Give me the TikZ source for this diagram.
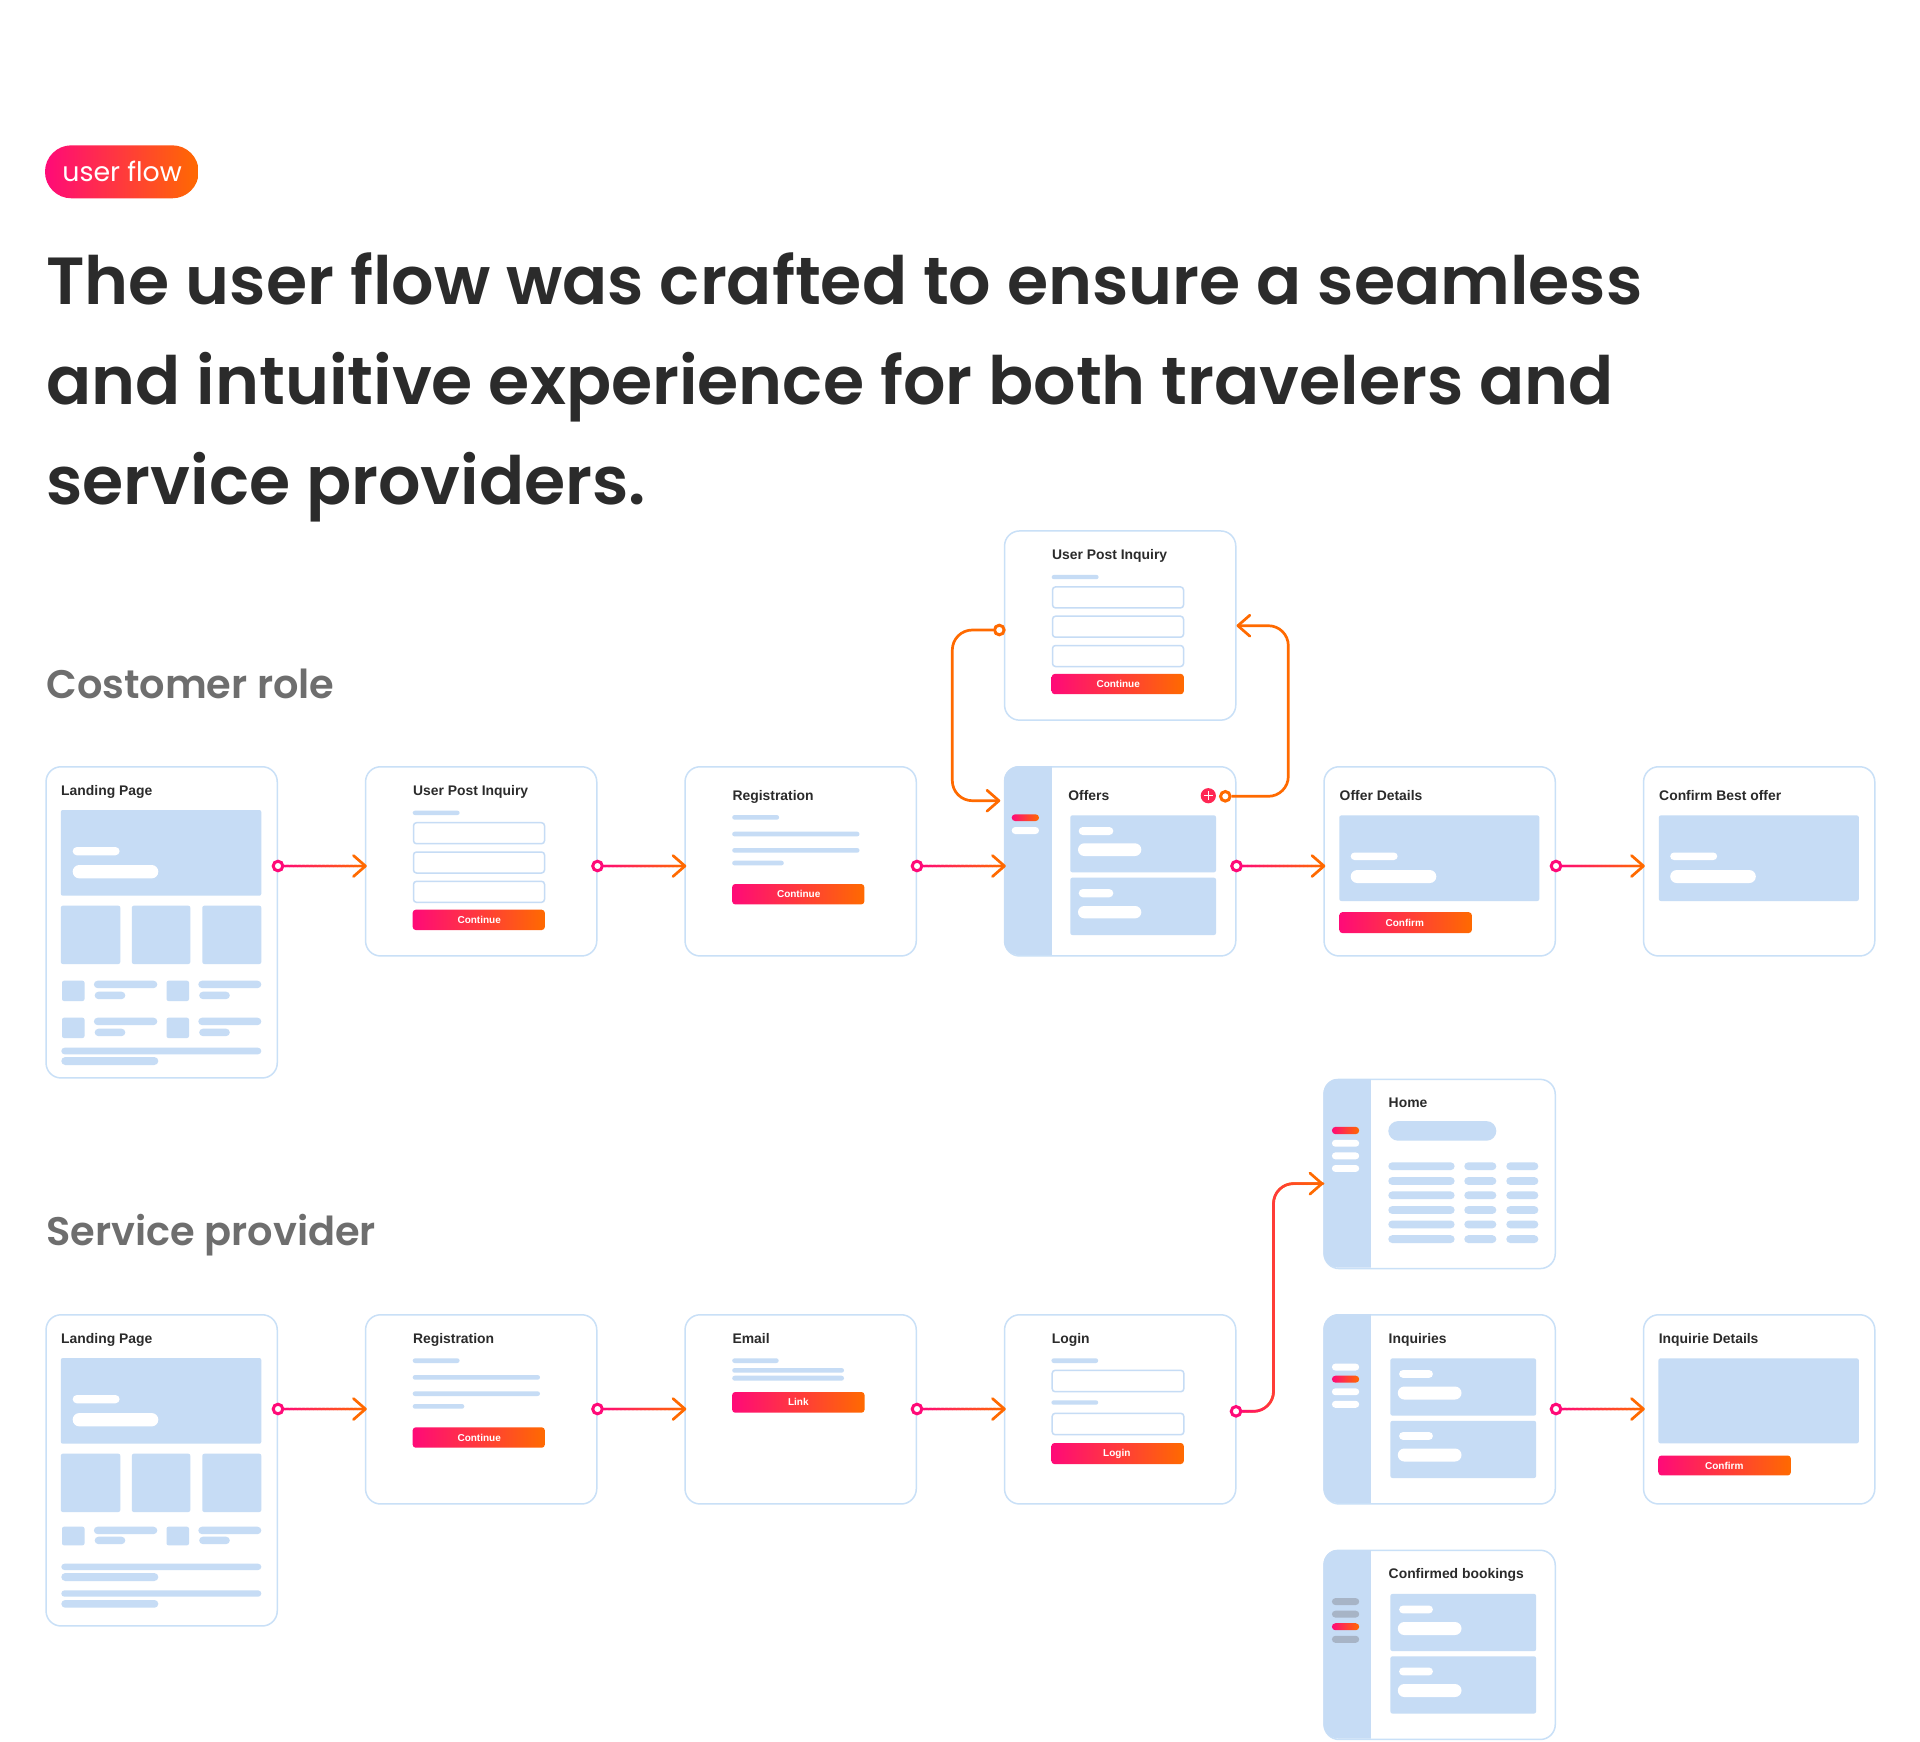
\documentclass[tikz,border=0pt]{standalone}
\usepackage{fontspec}
\usetikzlibrary{arrows.meta,decorations.markings,calc}
\newfontfamily\popsemi{Poppins SemiBold}
\newfontfamily\popmed{Poppins Medium}
\newfontfamily\popreg{Poppins}
\newfontfamily\uifont{Liberation Sans}
\definecolor{gPink}{HTML}{FF0A78}
\definecolor{gOrange}{HTML}{FF6A00}
\definecolor{blockblue}{HTML}{C6DCF5}
\definecolor{borderblue}{HTML}{C9E0F7}
\definecolor{inkdark}{HTML}{2B2B2B}
\definecolor{inkgray}{HTML}{6E6E6E}
\definecolor{navgray}{HTML}{A7B4C6}
\tikzset{
  card/.style={draw=borderblue,line width=0.75pt,fill=white,rectangle,rounded corners=7.5pt,
    minimum width=115.6pt,inner sep=0pt,anchor=north west},
  uititle/.style={inner sep=0pt,anchor=base west,text=inkdark,font=\uifont\bfseries\fontsize{6.95}{9}\selectfont},
  btnlabel/.style={inner sep=0pt,text=white,font=\uifont\bfseries\fontsize{5}{6}\selectfont},
  headline/.style={inner sep=0pt,anchor=base west,text=inkdark,font=\popsemi\fontsize{33.32}{40}\selectfont},
  rolelabel/.style={inner sep=0pt,anchor=base west,text=inkgray,font=\popsemi\fontsize{19.95}{24}\selectfont},
  fieldline/.style={draw=blockblue,line width=0.75pt,fill=white,rounded corners=1.5pt},
  blockfill/.style={fill=blockblue,rounded corners=1pt},
  gradfill/.style={left color=gPink,right color=gOrange},
  ringnode/.style={circle,draw=gPink,fill=white,line width=1.5pt,minimum size=4.8pt,inner sep=0pt},
  ringorange/.style={ringnode,draw=gOrange},
  barbtip/.style={-{Straight Barb[length=6pt,width=10.5pt,round]}},
  flowsolid/.style={draw=gOrange,line width=1.35pt,rounded corners=10pt,barbtip},
  flow/.style={flowsolid,shorten >=-1pt,postaction={decorate,decoration={markings,
    mark=between positions 0 and 1 step 0.4pt with {
      \pgfmathsetmacro\gpct{100*\pgfkeysvalueof{/pgf/decoration/mark info/distance from start}/\pgfdecoratedpathlength}
      \fill[color=gOrange!\gpct!gPink] (0,0) circle (0.7pt);}}}},
  flowmid/.style={flowsolid,postaction={decorate,decoration={markings,
    mark=between positions 0 and 1 step 0.4pt with {
      \pgfmathsetmacro\gq{100*\pgfkeysvalueof{/pgf/decoration/mark info/distance from start}/\pgfdecoratedpathlength}
      \pgfmathsetmacro\gpct{\gq<12?\gq*4.2:(\gq>84?50+(\gq-84)*3.1:50)}
      \fill[color=gOrange!\gpct!gPink] (0,0) circle (0.7pt);}}}},
}
\newcount\txtcnt
\newcommand{\myblk}[4]{\fill[blockfill] (#1,#2) rectangle (#3,#4);}
\newcommand{\mypill}[5]{\pgfmathsetmacro\rr{(#4-#2)/4-0.01}\fill[#5,rounded corners=\rr pt] (#1,#2) rectangle (#3,#4);}
\newcommand{\blp}[4]{\mypill{#1}{#2}{#3}{#4}{blockblue}}
\newcommand{\whp}[4]{\mypill{#1}{#2}{#3}{#4}{white}}
\newcommand{\gpill}[4]{\pgfmathsetmacro\rr{(#4-#2)/4-0.01}\shade[gradfill,rounded corners=\rr pt] (#1,#2) rectangle (#3,#4);}
\newcommand{\field}[4]{\draw[fieldline] (#1,#2) rectangle (#3,#4);}
\newcommand{\uititle}[3]{\global\advance\txtcnt by 1 \node[uititle] (t\the\txtcnt) at (#1,#2) {#3};}
\newcommand{\btn}[6]{\shade[gradfill,rounded corners=1.5pt] (#1,#2) rectangle (#3,#4);
  \global\advance\txtcnt by 1 \node[btnlabel] (t\the\txtcnt) at (#5,{(#2+#4)/2}) {#6};}
\newcommand{\sidebar}{\begin{scope}\clip[rounded corners=7.5pt] (0,0) rectangle (231.2,189);
  \fill[blockblue] (0,0) rectangle (48,189);\end{scope}}
\newcommand{\landinghero}{\myblk{15.5}{44}{216}{129.7}
  \whp{27.4}{81}{74.3}{89.3}\whp{27.4}{99}{113}{112.4}
  \myblk{15.5}{139.7}{75}{198}\myblk{86.5}{139.7}{145}{198}\myblk{157}{139.7}{216}{198}}
\newcommand{\landingrow}[3]{% y square top, bar2 top, square bottom
  \myblk{16.7}{#1}{39.2}{#3}\myblk{121.2}{#1}{143.7}{#3}
  \pgfmathsetmacro\ya{#1+7.4}\pgfmathsetmacro\yb{#2+7.4}
  \blp{48.6}{#1}{112}{\ya}\blp{153}{#1}{216}{\ya}\blp{49.4}{#2}{80}{\yb}\blp{153.9}{#2}{184.5}{\yb}}
\newcommand{\inquiryform}{\uititle{47.9}{29.7}{User Post Inquiry}
  \blp{47.9}{44.7}{94.8}{49}
  \field{48.7}{56.7}{179.7}{77.7}\field{48.7}{86}{179.7}{107}\field{48.7}{115.3}{179.7}{136.3}
  \btn{47.9}{143.7}{180}{164}{114.4}{Continue}}
\newcommand{\bookblocks}{\myblk{67.1}{44.4}{212.8}{101.6}\whp{75.8}{56}{109.6}{63.9}\whp{74.5}{72.5}{138.2}{85.5}
  \myblk{67.1}{106.8}{212.8}{164}\whp{75.8}{118}{109.6}{125.9}\whp{74.5}{134.5}{138.2}{147.5}}
\newcommand{\herobig}{\myblk{16}{49.4}{216}{135}\whp{27.4}{86.5}{74.3}{94}\whp{27.4}{104}{113}{117}}
\begin{document}
\begin{tikzpicture}[x=0.5pt,y=-0.5pt]
\useasboundingbox (0,0) rectangle (1920,1741);
\fill[white] (0,0) rectangle (1920,1741);
% badge
\shade[gradfill,rounded corners=13.2pt] (45,145.3) rectangle (198.7,198.3);
\node[inner sep=0pt,anchor=base west,text=white,font=\popreg\fontsize{13.4}{18}\selectfont] (badge) at (62,181.5) {user flow};
% heading
\node[headline] (h1) at (46,304.3) {The user flow was crafted to ensure a seamless};
\node[headline] (h2) at (46,404.3) {and intuitive experience for both travelers and};
\node[headline] (h3) at (46,504.3) {service providers.};
\node[rolelabel] (role1) at (46,698) {Costomer role};
\node[rolelabel] (role2) at (46,1245) {Service provider};
% ---- row 1 cards
\node[card,minimum height=155.6pt] (c1) at (45.3,766) {};
\node[card,minimum height=94.6pt] (c2) at (364.8,766) {};
\node[card,minimum height=94.6pt] (c3) at (684.3,766) {};
\node[card,minimum height=94.6pt] (c4) at (1003.8,766) {};
\node[card,minimum height=94.6pt] (c5) at (1323.3,766) {};
\node[card,minimum height=94.6pt] (c6) at (1642.8,766) {};
\node[card,minimum height=94.6pt] (ctop) at (1003.8,530.2) {};
% row 2 cards
\node[card,minimum height=155.6pt] (d1) at (45.3,1314) {};
\node[card,minimum height=94.6pt] (d2) at (364.8,1314) {};
\node[card,minimum height=94.6pt] (d3) at (684.3,1314) {};
\node[card,minimum height=94.6pt] (d4) at (1003.8,1314) {};
\node[card,minimum height=94.6pt] (d5) at (1323.3,1314) {};
\node[card,minimum height=94.6pt] (d6) at (1642.8,1314) {};
\node[card,minimum height=94.6pt] (dhome) at (1323.3,1078.6) {};
\node[card,minimum height=94.6pt] (dconf) at (1323.3,1549.5) {};
% ---- contents: landing (customer)
\begin{scope}[shift={(45.3,766)}]
  \uititle{15.5}{29.7}{Landing Page}
  \landinghero
  \landingrow{214.7}{225.7}{235}
  \landingrow{251.7}{262.7}{272}
  \blp{16}{281.7}{216}{288.3}\blp{16}{291}{113}{299}
\end{scope}
\begin{scope}[shift={(364.8,766)}]\inquiryform\end{scope}
\begin{scope}[shift={(1003.8,530.2)}]\inquiryform\end{scope}
% registration (customer)
\begin{scope}[shift={(684.3,766)}]
  \uititle{47.9}{34.4}{Registration}
  \blp{47.9}{49}{94.8}{53.7}\blp{47.9}{65.7}{175.2}{70.4}\blp{47.9}{82}{175.2}{86.7}\blp{47.9}{94.7}{99.5}{99.4}
  \btn{47.9}{118}{180}{138.4}{114.4}{Continue}
\end{scope}
% offers
\begin{scope}[shift={(1003.8,766)}]
  \sidebar
  \gpill{7.9}{48.3}{35.2}{55}\whp{7.9}{61}{35.2}{68}
  \uititle{64.2}{34.4}{Offers}
  \myblk{66.5}{49.3}{212.2}{106.3}\whp{74.9}{61}{109.5}{69}\whp{74.2}{77.3}{137.5}{90}
  \myblk{66.5}{111.7}{212.2}{169}\whp{74.9}{123}{109.5}{131.3}\whp{74.2}{140}{137.5}{152.3}
\end{scope}
\node[circle,fill=gPink!70!gOrange,minimum size=7.6pt,inner sep=0pt] (plusicon) at (1208.3,795.7) {};
\draw[white,line width=0.75pt] ($(plusicon)+(-4.5,0)$) -- ($(plusicon)+(4.5,0)$);
\draw[white,line width=0.75pt] ($(plusicon)+(0,-4.5)$) -- ($(plusicon)+(0,4.5)$);
% offer details
\begin{scope}[shift={(1323.3,766)}]
  \uititle{16}{34.4}{Offer Details}
  \herobig
  \btn{16}{146.2}{148.5}{167}{81.5}{Confirm}
\end{scope}
\begin{scope}[shift={(1642.8,766)}]
  \uititle{16}{34.4}{Confirm Best offer}
  \herobig
\end{scope}
% ---- landing (provider)
\begin{scope}[shift={(45.3,1314)}]
  \uititle{15.5}{29.7}{Landing Page}
  \landinghero
  \landingrow{212.7}{222.7}{231.3}
  \blp{16}{249.7}{216}{256}\blp{16}{259}{113}{267}\blp{16}{276.3}{216}{282.7}\blp{16}{286}{113}{293.7}
\end{scope}
\begin{scope}[shift={(364.8,1314)}]
  \uititle{47.9}{29.7}{Registration}
  \blp{47.9}{44.3}{94.8}{49}\blp{47.9}{61}{175.2}{65.7}\blp{47.9}{77.3}{175.2}{82}\blp{47.9}{90}{99.5}{94.7}
  \btn{47.9}{113.3}{180}{133.7}{114.4}{Continue}
\end{scope}
\begin{scope}[shift={(684.3,1314)}]
  \uititle{47.9}{29.7}{Email}
  \blp{47.9}{44.3}{94.4}{49}\blp{47.9}{54}{159.7}{58.7}\blp{47.9}{61.7}{159.7}{66.7}
  \btn{47.9}{78}{180.2}{98.7}{114}{Link}
\end{scope}
\begin{scope}[shift={(1003.8,1314)}]
  \uititle{47.6}{29.7}{Login}
  \blp{47.6}{44.3}{94.4}{49}
  \field{48.4}{56.3}{180}{77.7}
  \blp{47.6}{86.3}{94.4}{90.7}
  \field{48.4}{99.3}{180}{120.7}
  \btn{47.6}{129}{180}{150}{113}{Login}
\end{scope}
% home
\begin{scope}[shift={(1323.3,1078.6)}]
  \sidebar
  \gpill{8.6}{48.2}{35.9}{55.6}\whp{8.6}{61.2}{35.9}{68.1}\whp{8.6}{73.8}{35.9}{80.7}\whp{8.6}{86.4}{35.9}{93.3}
  \uititle{65}{29}{Home}
  \blp{65}{42.5}{173}{62.1}
  \foreach \yy in {87.6,102.4,116.7,131.4,145.8,160.5}{
    \pgfmathsetmacro\ya{\yy-3.9}\pgfmathsetmacro\yb{\yy+3.9}
    \blp{65}{\ya}{131.3}{\yb}\blp{141}{\ya}{173}{\yb}\blp{183}{\ya}{215}{\yb}}
\end{scope}
% inquiries
\begin{scope}[shift={(1323.3,1314)}]
  \sidebar
  \whp{8.6}{49.6}{35.9}{56.5}\gpill{8.6}{61.7}{35.9}{68.6}\whp{8.6}{74.3}{35.9}{81.2}\whp{8.6}{86.8}{35.9}{93.8}
  \uititle{65}{29.5}{Inquiries}
  \bookblocks
\end{scope}
% inquirie details
\begin{scope}[shift={(1642.8,1314)}]
  \uititle{15.6}{29.5}{Inquirie Details}
  \myblk{15.6}{44.4}{216}{129.3}
  \btn{15.6}{141.5}{148}{161.4}{81.5}{Confirm}
\end{scope}
% confirmed
\begin{scope}[shift={(1323.3,1549.5)}]
  \sidebar
  \mypill{8.6}{48.6}{35.9}{55.5}{navgray}\mypill{8.6}{61.2}{35.9}{68}{navgray}\gpill{8.6}{73.7}{35.9}{80.7}\mypill{8.6}{86.3}{35.9}{93.3}{navgray}
  \uititle{65}{29}{Confirmed bookings}
  \bookblocks
\end{scope}
% ---- connectors
\coordinate (ya) at (0,866);
\coordinate (yb) at (0,1409);
\node[ringnode] (r1) at (c1.east |- ya) {};
\node[ringnode] (r2) at (c2.east |- ya) {};
\node[ringnode] (r3) at (c3.east |- ya) {};
\node[ringnode] (r4) at (c4.east |- ya) {};
\node[ringnode] (r5) at (c5.east |- ya) {};
\draw[flow] (r1) -- (r1 -| c2.west);
\draw[flow] (r2) -- (r2 -| c3.west);
\draw[flow] (r3) -- (r3 -| c4.west);
\draw[flow] (r4) -- (r4 -| c5.west);
\draw[flow] (r5) -- (r5 -| c6.west);
\node[ringnode] (s1) at (d1.east |- yb) {};
\node[ringnode] (s2) at (d2.east |- yb) {};
\node[ringnode] (s3) at (d3.east |- yb) {};
\node[ringnode] (s5) at (d5.east |- yb) {};
\node[ringnode] (s4) at (1236,1411.3) {};
\draw[flow] (s1) -- (s1 -| d2.west);
\draw[flow] (s2) -- (s2 -| d3.west);
\draw[flow] (s3) -- (s3 -| d4.west);
\draw[flow] (s5) -- (s5 -| d6.west);
\coordinate (viahome) at (1273.5,1300);
\coordinate (homey) at (0,1183.6);
\draw[flowmid] (s4) -| (viahome) |- (dhome.west |- homey);
\node[ringorange] (oa) at (999.3,630) {};
\node[ringorange] (ob) at (1225.3,796.3) {};
\coordinate (vial) at (952.3,700);
\coordinate (viar) at (1288.3,700);
\coordinate (tipl) at (1000.3,800.7);
\coordinate (yr) at (0,625.7);
\coordinate (tipr) at (ctop.east |- yr);
\draw[flowsolid] (oa) -| (vial) |- (tipl);
\draw[flowsolid] (ob) -| (viar) |- (tipr);
\end{tikzpicture}
\end{document}
